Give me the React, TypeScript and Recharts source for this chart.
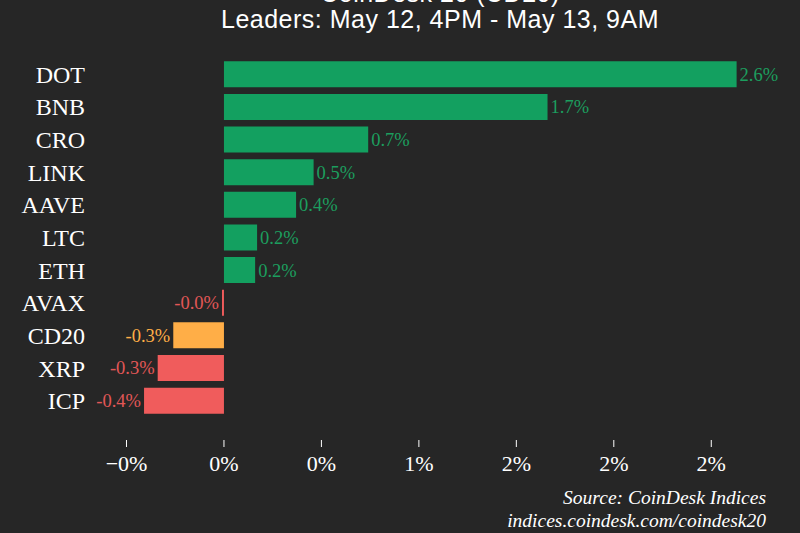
import React from "react";
import { Bar, BarChart, Cell, LabelList, XAxis, YAxis } from "recharts";

const coins = ["DOT", "BNB", "CRO", "LINK", "AAVE", "LTC", "ETH", "AVAX", "CD20", "XRP", "ICP"];
const changes = [2.63, 1.66, 0.74, 0.46, 0.37, 0.17, 0.16, -0.01, -0.26, -0.34, -0.41];
const xTicks = [-0.5, 0, 0.5, 1, 1.5, 2, 2.5];
const xTickLabels = ["\u22120%", "0%", "0%", "1%", "2%", "2%", "2%"];

const data = coins.map((name, i) => ({ name, change: changes[i] }));

const BG = "#262626";
const GREEN = "#13a060";
const GREEN_TEXT = "#1c9e5e";
const RED = "#f05c5c";
const RED_TEXT = "#e25757";
const ORANGE = "#ffae47";
const SERIF = "'Liberation Serif', 'DejaVu Serif', serif";

const barColor = (name: string, v: number) =>
  name === "CD20" ? ORANGE : v >= 0 ? GREEN : RED;
const textColor = (name: string, v: number) =>
  name === "CD20" ? ORANGE : v >= 0 ? GREEN_TEXT : RED_TEXT;

const ValueLabel = (props: any) => {
  const { x, y, width, height, index } = props;
  const row = data[index];
  const left = Math.min(x, x + width);
  const right = Math.max(x, x + width);
  const pos = row.change >= 0;
  return (
    <text
      x={pos ? right + 3 : left - 3}
      y={y + height / 2}
      dy="0.35em"
      textAnchor={pos ? "start" : "end"}
      fill={textColor(row.name, row.change)}
      fontFamily={SERIF}
      fontSize={18.5}
    >
      {row.change.toFixed(1)}%
    </text>
  );
};

const XTick = (props: any) => {
  const { x, y, payload } = props;
  const i = xTicks.indexOf(payload.value);
  return (
    <g>
      <line x1={x} x2={x} y1={y + 15} y2={y + 22} stroke="#ffffff" strokeWidth={1} />
      <text
        x={x}
        y={y + 46}
        textAnchor="middle"
        fill="#ffffff"
        fontFamily={SERIF}
        fontSize={22}
      >
        {xTickLabels[i]}
      </text>
    </g>
  );
};

const YTick = (props: any) => {
  const { x, y, payload } = props;
  return (
    <text
      x={x}
      y={y}
      dy="0.355em"
      textAnchor="end"
      fill="#ffffff"
      fontFamily={SERIF}
      fontSize={24}
    >
      {payload.value}
    </text>
  );
};

export default function App() {
  return (
    <div
      style={{
        position: "absolute",
        left: 0,
        top: 0,
        width: 800,
        height: 533,
        background: BG,
        overflow: "hidden",
      }}
    >
      <div
        style={{
          position: "absolute",
          left: 0,
          width: 800,
          top: -20,
          textAlign: "center",
          color: "#ffffff",
          fontFamily: "'Liberation Sans', Arial, sans-serif",
          fontSize: 25,
          letterSpacing: 0.5,
          lineHeight: "26px",
        }}
      >
        <div style={{ paddingLeft: 80 }}>CoinDesk 20 (CD20)</div>
        <div style={{ paddingLeft: 80 }}>Leaders: May 12, 4PM - May 13, 9AM</div>
      </div>
      <BarChart
        width={800}
        height={533}
        data={data}
        layout="vertical"
        barCategoryGap="10%"
        margin={{ top: 58, right: 40, bottom: 56, left: 7 }}
      >
        <XAxis
          type="number"
          domain={[-0.6, 2.75]}
          ticks={xTicks}
          interval={0}
          axisLine={false}
          tickLine={false}
          height={60}
          tick={<XTick />}
        />
        <YAxis
          type="category"
          dataKey="name"
          width={100}
          axisLine={false}
          tickLine={false}
          tickSize={0}
          tickMargin={22}
          interval={0}
          tick={<YTick />}
        />
        <Bar dataKey="change" isAnimationActive={false}>
          {data.map((d) => (
            <Cell key={d.name} fill={barColor(d.name, d.change)} />
          ))}
          <LabelList dataKey="change" content={<ValueLabel />} />
        </Bar>
      </BarChart>
      <div
        style={{
          position: "absolute",
          right: 34,
          top: 486,
          textAlign: "right",
          color: "#ffffff",
          fontFamily: SERIF,
          fontStyle: "italic",
          fontSize: 19.5,
          lineHeight: "23px",
        }}
      >
        <div>Source: CoinDesk Indices</div>
        <div>indices.coindesk.com/coindesk20</div>
      </div>
    </div>
  );
}
